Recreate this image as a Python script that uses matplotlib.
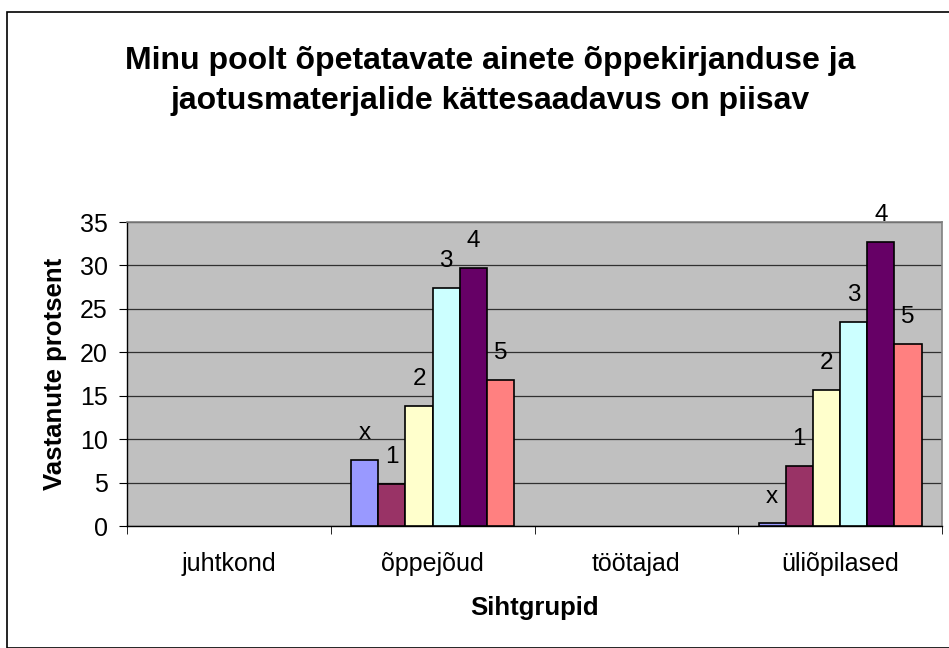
import matplotlib
matplotlib.use("Agg")
import matplotlib.pyplot as plt
import numpy as np
from matplotlib.patches import Rectangle

categories = ["juhtkond", "õppejõud", "töötajad", "üliõpilased"]
series_names = ["x", "1", "2", "3", "4", "5"]
values = {
    "x": [np.nan, 7.6, np.nan, 0.3],
    "1": [np.nan, 4.8, np.nan, 6.9],
    "2": [np.nan, 13.8, np.nan, 15.7],
    "3": [np.nan, 27.4, np.nan, 23.5],
    "4": [np.nan, 29.7, np.nan, 32.7],
    "5": [np.nan, 16.8, np.nan, 21.0],
}
colors = ["#9999FF", "#993366", "#FFFFCC", "#CCFFFF", "#660066", "#FF8080"]
title = "Minu poolt õpetatavate ainete õppekirjanduse ja\njaotusmaterjalide kättesaadavus on piisav"
ylabel = "Vastanute protsent"
xlabel = "Sihtgrupid"

plt.rcParams['font.family'] = ['Liberation Sans', 'DejaVu Sans']

W, H = 949, 648
fig = plt.figure(figsize=(W / 100, H / 100), dpi=100)
# outer frame
fig.patches.append(Rectangle((7 / W, 0), 1, 1 - 12 / H, transform=fig.transFigure,
                             fill=False, edgecolor="black", linewidth=1.2))

left, right, top, bottom = 127, 942, 222, 526
ax = fig.add_axes([left / W, 1 - bottom / H, (right - left) / W, (bottom - top) / H])
ax.set_facecolor("#C0C0C0")

n = len(series_names)
group_w = 0.8
bw = group_w / n
x = np.arange(len(categories))
for i, (name, col) in enumerate(zip(series_names, colors)):
    pos = x - group_w / 2 + bw * (i + 0.5)
    vals = np.array(values[name], dtype=float)
    ax.bar(pos, vals, width=bw, color=col, edgecolor="black", linewidth=1.2, zorder=3)
    for p, v in zip(pos, vals):
        if not np.isnan(v):
            ax.annotate(name, (p, v), xytext=(0, 15), textcoords="offset points",
                        ha="center", va="baseline", fontsize=17.5, zorder=4)

ax.set_xlim(-0.5, len(categories) - 0.5)
ax.set_ylim(0, 35)
ax.set_yticks(np.arange(0, 36, 5))
ax.yaxis.grid(True, color="#303030", linewidth=0.9, zorder=1)
ax.set_axisbelow(True)
ax.set_xticks(x)
ax.set_xticklabels(categories, fontsize=18)
ax.set_xticks(np.arange(-0.5, len(categories) + 0.5, 1), minor=True)
ax.tick_params(axis="x", which="major", length=0, pad=19)
ax.tick_params(axis="x", which="minor", length=6, direction="out", color="black")
ax.tick_params(axis="y", labelsize=18, length=5.8, direction="out", pad=8)

for s in ["top", "right"]:
    ax.spines[s].set_color("#808080")
    ax.spines[s].set_linewidth(1.2)
for s in ["left", "bottom"]:
    ax.spines[s].set_color("black")
    ax.spines[s].set_linewidth(1.0)

ax.set_ylabel(ylabel, fontsize=18.5, fontweight="bold", labelpad=9.5)
ax.set_xlabel(xlabel, fontsize=18.5, fontweight="bold", labelpad=14)
fig.text(490 / W, 1 - 81 / H, title, ha="center", va="center", fontsize=23,
         fontweight="bold", linespacing=1.4)

fig.savefig("out.png", dpi=100)
